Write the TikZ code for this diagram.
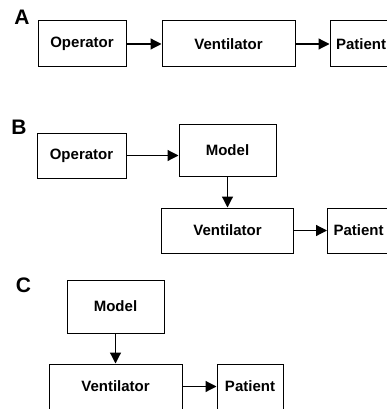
\documentclass[tikz,border=0pt]{standalone}
\usepackage{fontspec}
\setmainfont{Liberation Sans}
\usetikzlibrary{arrows.meta,positioning}

\begin{document}
\begin{tikzpicture}[
        x=1pt, y=-1pt,
        box/.style={draw, line width=1pt, minimum height=46pt, inner sep=0pt,
                    font=\fontsize{15}{17}\selectfont\bfseries},
        panel/.style={font=\fontsize{21}{23}\selectfont\bfseries, inner sep=0pt},
        every path/.style={line width=1.2pt},
        flow/.style={-{Triangle[length=11pt,width=11pt]}}
    ]
    \useasboundingbox (0,0) rectangle (387,409);

    % Panel A
    \node[panel] (labA) at (22,17.5) {A};
    \node[box, minimum width=88pt] (opA) at (82,44) {Operator};
    \node[box, minimum width=133pt, right=35pt of opA] (ventA) {Ventilator};
    \node[box, minimum width=62pt, right=34pt of ventA] (patA) {Patient};

    % Panel B
    \node[panel] (labB) at (19,127) {B};
    \node[box, minimum width=89pt, minimum height=45pt] (opB) at (81.5,155.5) {Operator};
    \node[box, minimum width=97pt, minimum height=52pt] (modB) at (227.5,150) {Model};
    \node[box, minimum width=132pt, minimum height=45pt, below=31pt of modB] (ventB) {Ventilator};
    \node[box, minimum width=62pt, minimum height=45pt, right=33pt of ventB] (patB) {Patient};

    % Panel C
    \node[panel] (labC) at (23.5,285.5) {C};
    \node[box, minimum width=97pt, minimum height=53pt] (modC) at (115.5,306.5) {Model};
    \node[box, minimum width=133pt, minimum height=45pt, below=30pt of modC] (ventC) {Ventilator};
    \node[box, minimum width=66pt, minimum height=45pt, right=34pt of ventC] (patC) {Patient};

    % Edges
    \draw[flow] (opA) -- (ventA);
    \draw[flow] (ventA) -- (patA);
    \draw[flow] (opB.east) -- (opB.east -| modB.west);
    \draw[flow] (modB) -- (ventB);
    \draw[flow] (ventB) -- (patB);
    \draw[flow] (modC) -- (ventC);
    \draw[flow] (ventC) -- (patC);

\end{tikzpicture}
\end{document}
